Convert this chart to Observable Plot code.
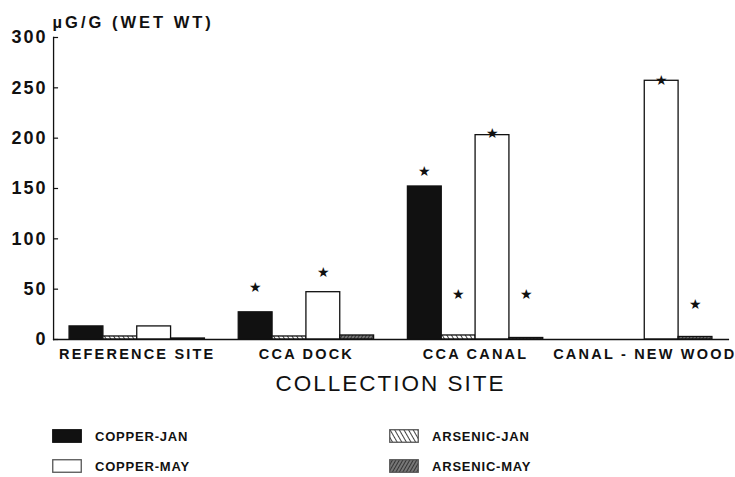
<!DOCTYPE html>
<html>
<head>
<meta charset="utf-8">
<script src="https://cdn.jsdelivr.net/npm/d3@7"></script>
<script src="https://cdn.jsdelivr.net/npm/@observablehq/plot@0.6"></script>
<style>
  html, body { margin: 0; padding: 0; background: #fff; }
  body { width: 735px; height: 477px; overflow: hidden; font-family: "Liberation Sans", Arial, sans-serif; color: #111; }
  #chart svg text { font-family: "Liberation Sans", Arial, sans-serif; }
  #chart g[aria-label="y-axis tick label"] text { font-weight: bold; letter-spacing: 2px; font-size: 18px; }
  #chart g[aria-label="fx-axis tick label"] text { font-weight: bold; letter-spacing: 2.2px; font-size: 14.5px; }
  #chart text.ylab { font-weight: bold; letter-spacing: 3px; }
  #xtitle { margin-top: 3px; height: 24px; width: 781px; text-align: center; font-size: 22.5px; line-height: 22px; letter-spacing: 2px; color: #111; }
  #legend { margin-top: 24px; margin-left: 52px; display: grid; grid-template-columns: 337px auto; grid-auto-rows: 30px; }
  .item { display: flex; align-items: center; font-weight: bold; font-size: 13px; letter-spacing: 0.8px; }
  .sw { width: 30px; height: 14px; margin-right: 13px; box-sizing: border-box; }
</style>
</head>
<body>
<svg width="0" height="0" style="position:absolute">
  <defs>
    <pattern id="hatchJan" patternUnits="userSpaceOnUse" width="4" height="4" patternTransform="rotate(-30)">
      <rect width="4" height="4" fill="#fff"/>
      <line x1="0" y1="0" x2="0" y2="4" stroke="#111" stroke-width="1.6"/>
    </pattern>
    <pattern id="hatchMay" patternUnits="userSpaceOnUse" width="3" height="3" patternTransform="rotate(30)">
      <rect width="3" height="3" fill="#777"/>
      <line x1="0" y1="0" x2="0" y2="3" stroke="#222" stroke-width="1.6"/>
    </pattern>
  </defs>
</svg>
<div id="chart"></div>
<div id="xtitle">COLLECTION SITE</div>
<div id="legend"></div>
<script>
// ---- data ----
const sites = ["REFERENCE SITE", "CCA DOCK", "CCA CANAL", "CANAL - NEW WOOD"];
const seriesNames = ["COPPER-JAN", "ARSENIC-JAN", "COPPER-MAY", "ARSENIC-MAY"];
const copperJan  = [13, 27, 152, 0];
const arsenicJan = [3, 3, 4, 0];
const copperMay  = [13, 47, 203, 257];
const arsenicMay = [1, 4, 1.5, 2.5];
const yTicks = [0, 50, 100, 150, 200, 250, 300];
const yTitle = "µG/G (WET WT)";
// significance stars (site, series, level in µg/g)
const starSites  = ["CCA DOCK", "CCA DOCK", "CCA CANAL", "CCA CANAL", "CCA CANAL", "CCA CANAL", "CANAL - NEW WOOD", "CANAL - NEW WOOD"];
const starSeries = ["COPPER-JAN", "COPPER-MAY", "COPPER-JAN", "ARSENIC-JAN", "COPPER-MAY", "ARSENIC-MAY", "COPPER-MAY", "ARSENIC-MAY"];
const starLevels = [52, 67, 167, 45, 205, 45, 257, 35];

const seriesValues = [copperJan, arsenicJan, copperMay, arsenicMay];
const fills = ["#111", "url(#hatchJan)", "#fff", "url(#hatchMay)"];

const rows = [];
sites.forEach((s, i) => seriesNames.forEach((n, j) => rows.push({site: s, series: n, value: seriesValues[j][i]})));
const stars = starSites.map((s, i) => ({site: s, series: starSeries[i], level: starLevels[i]}));

// gap between the y axis and the first facet (outer padding of the fx scale)
const outer = 16;

const plot = Plot.plot({
  width: 735,
  height: 370,
  marginLeft: 53,
  marginRight: 7,
  marginTop: 37,
  marginBottom: 31,
  style: {fontFamily: "Liberation Sans, Arial, sans-serif", color: "#111", background: "#fff"},
  fx: {domain: sites, paddingInner: 0.2, paddingOuter: 0.095, round: false, label: null},
  x: {domain: seriesNames, paddingInner: 0, paddingOuter: 0, round: false, axis: null},
  y: {domain: [0, 300], label: null},
  marks: [
    Plot.barY(rows, {fx: "site", x: "series", y: "value", fill: d => fills[seriesNames.indexOf(d.series)], stroke: "#111", strokeWidth: 1.3}),
    Plot.text(stars, {fx: "site", x: "series", y: "level", text: () => "★", fontSize: 14, fontFamily: "DejaVu Sans", fill: "#111", lineAnchor: "middle"}),
    Plot.frame({anchor: "bottom", insetLeft: -outer, insetRight: -outer, stroke: "#111", strokeWidth: 1.3, facet: "super"}),
    Plot.frame({anchor: "left", insetLeft: -outer, stroke: "#111", strokeWidth: 1.3, facet: "super"}),
    Plot.axisY({ticks: yTicks, tickSize: 0, tickPadding: 6, dx: -outer, fontSize: 18, label: null}),
    Plot.axisY({ticks: yTicks, tickSize: 5, dx: -outer + 5, tickFormat: () => "", label: null, stroke: "#111", strokeWidth: 1.2}),
    Plot.axisFx({anchor: "bottom", tickSize: 0, tickPadding: 9, fontSize: 14.5, label: null}),
    Plot.text([yTitle], {frameAnchor: "top-left", textAnchor: "start", dx: -outer - 1, dy: -10, lineAnchor: "bottom", fontSize: 16.5, fontWeight: "bold", fill: "#111", facet: "super"})
  ]
});
document.getElementById("chart").appendChild(plot);
d3.select(plot).selectAll("text").filter(function() { return this.textContent === yTitle; }).attr("class", "ylab");

const legend = d3.select("#legend");
[0, 1, 2, 3].forEach(j => {
  const it = legend.append("div").attr("class", "item");
  const sw = it.append("svg").attr("class", "sw").attr("width", 30).attr("height", 14);
  sw.append("rect").attr("x", 0.75).attr("y", 0.75).attr("width", 28.5).attr("height", 12.5)
    .attr("fill", fills[j]).attr("stroke", j === 0 ? "#111" : "#555").attr("stroke-width", 1.3);
  it.append("span").text(seriesNames[j]);
});
</script>
</body>
</html>
